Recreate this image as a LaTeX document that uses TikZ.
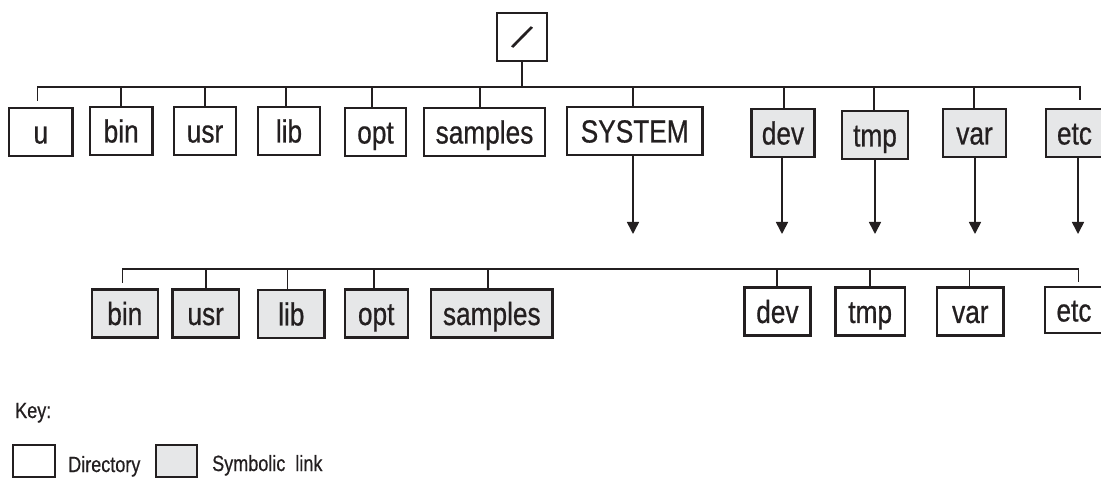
\documentclass[tikz,border=0pt]{standalone}
\usepackage{fontspec}
\setmainfont[FakeStretch=0.82,FakeBold=0.6]{Liberation Sans}
\usetikzlibrary{arrows.meta}
\definecolor{ink}{HTML}{231F20}
\definecolor{linkfill}{HTML}{E6E7E8}
\begin{document}
\begin{tikzpicture}[x=1pt,y=-1pt,
  box/.style={draw=ink, line width=2.4pt, minimum height=48pt, inner sep=0pt,
    text height=23pt, text depth=0pt, font=\fontsize{32}{32}\selectfont, text=ink},
  dirbox/.style={box, fill=white},
  linkbox/.style={box, fill=linkfill},
  keybox/.style={draw=ink, line width=2.4pt, minimum width=42pt, minimum height=32pt, inner sep=0pt},
  keytext/.style={inner sep=0pt, anchor=base west, font=\fontsize{22}{22}\selectfont, text=ink},
  conn/.style={draw=ink, line width=1.6pt},
  arr/.style={conn, -{Triangle[width=12pt,length=12pt]}}]
\useasboundingbox (0,0) rectangle (1101,478);
\clip (0,0) rectangle (1101,478);

% root
\node[dirbox, minimum width=50pt] (root) at (522,37) {};
\node[inner sep=0pt, rotate=-32, font=\fontsize{37}{37}\selectfont, text=ink] (slash) at (root.center) {/};

% first level
\node[dirbox, minimum width=63.5pt] (u) at (40.8,132) {u};
\node[dirbox, minimum width=62.5pt] (bin1) at (121.2,131) {bin};
\node[dirbox, minimum width=62pt] (usr1) at (205,131) {usr};
\node[dirbox, minimum width=62pt] (lib1) at (289,131) {lib};
\node[dirbox, minimum width=61pt] (opt1) at (375.5,132) {opt};
\node[dirbox, minimum width=121pt] (samples1) at (484.5,132) {samples};
\node[dirbox, minimum width=135.5pt] (system) at (634.7,131) {SYSTEM};
\node[linkbox, minimum width=63pt] (dev1) at (783,133) {dev};
\node[linkbox, minimum width=66pt] (tmp1) at (875,135) {tmp};
\node[linkbox, minimum width=63pt] (var1) at (974.5,133) {var};
\node[linkbox, minimum width=57pt] (etc1) at (1074.5,133) {etc};

\coordinate (bus1) at (522,87);
\coordinate (t1L) at (37.5,101);
\coordinate (t1R) at (1080,100);
\draw[conn] (t1L) |- (bus1) -| (t1R);
\draw[conn] (root.south) -- (bus1);
\foreach \n/\s in {bin1/0,usr1/0,lib1/-3,opt1/-3.5,samples1/-4.5,system/-1.7,dev1/1,tmp1/-1,var1/-0.5}
  \draw[conn] ([xshift=\s pt]\n.north) -- ([xshift=\s pt]\n.north |- bus1);

% arrows
\coordinate (aSys) at (633,234);
\coordinate (aDev) at (782,234);
\coordinate (aTmp) at (875,234);
\coordinate (aVar) at (975,234);
\coordinate (aEtc) at (1078,234);
\draw[arr] (system.south -| aSys) -- (aSys);
\draw[arr] (dev1.south -| aDev) -- (aDev);
\draw[arr] (tmp1.south -| aTmp) -- (aTmp);
\draw[arr] (var1.south -| aVar) -- (aVar);
\draw[arr] (etc1.south -| aEtc) -- (aEtc);

% second level
\node[linkbox, minimum width=66pt] (bin2) at (124.8,313.5) {bin};
\node[linkbox, minimum width=66.5pt] (usr2) at (205.7,313.5) {usr};
\node[linkbox, minimum width=66.5pt] (lib2) at (291.3,314) {lib};
\node[linkbox, minimum width=63pt] (opt2) at (376.2,313.5) {opt};
\node[linkbox, minimum width=121.5pt] (samples2) at (491.8,313.5) {samples};
\node[dirbox, minimum width=66pt] (dev2) at (777.4,311.5) {dev};
\node[dirbox, minimum width=69.6pt] (tmp2) at (870.2,311.5) {tmp};
\node[dirbox, minimum width=66.6pt] (var2) at (970.3,311.5) {var};
\node[dirbox, minimum width=58pt, minimum height=46pt] (etc2) at (1074,310) {etc};

\coordinate (bus2) at (600,269);
\coordinate (b2L) at (122.5,283);
\coordinate (b2R) at (1078.6,282);
\draw[conn] (b2L) |- (bus2) -| (b2R);
\foreach \n/\s in {usr2/0.3,lib2/-4,opt2/-2,samples2/-4,dev2/-0.6,tmp2/0,var2/-1}
  \draw[conn] ([xshift=\s pt]\n.north) -- ([xshift=\s pt]\n.north |- bus2);

% key
\node[keytext] (key) at (15,418) {Key:};
\node[keybox, fill=white] (kdir) at (34,461) {};
\node[keytext] (kdirt) at (68,472) {Directory};
\node[keybox, fill=linkfill, minimum width=41pt] (klink) at (176.5,461) {};
\node[keytext] (klinkt) at (212,471) {Symbolic\hspace{10pt}link};
\end{tikzpicture}
\end{document}
